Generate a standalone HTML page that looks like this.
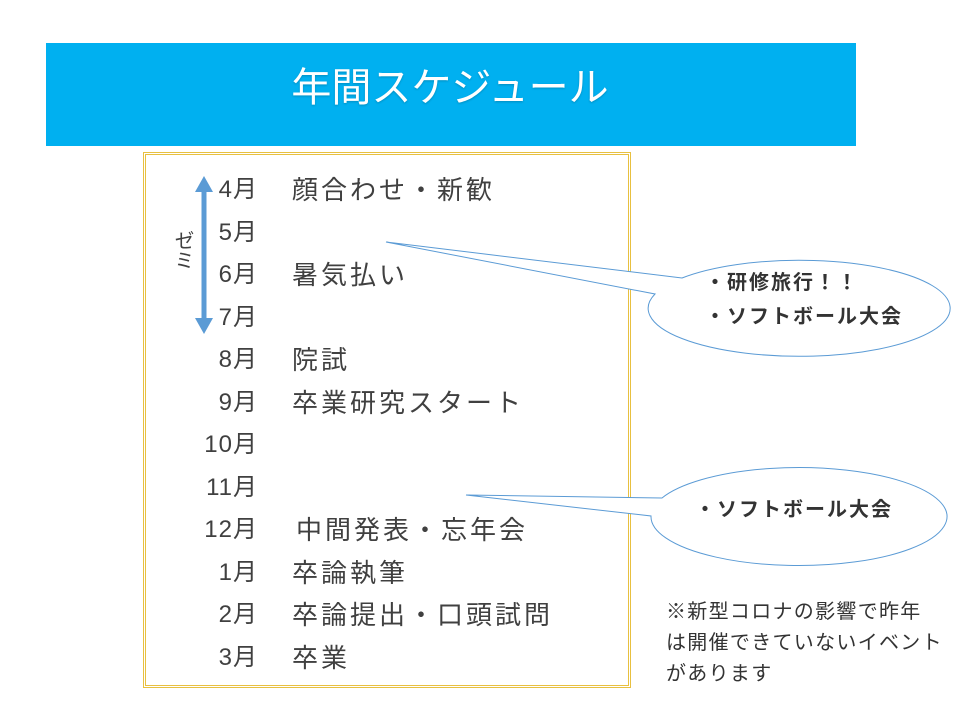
<!DOCTYPE html>
<html><head><meta charset="utf-8"><style>
body{margin:0;width:960px;height:720px;background:#fff;position:relative;overflow:hidden;font-family:"Liberation Sans","Noto Sans CJK JP",sans-serif;color:#404040}
.t{position:absolute;white-space:nowrap}
.m{position:absolute;width:70px;text-align:right;left:188px;font-size:24px;line-height:30px;letter-spacing:1px}
.e{position:absolute;left:292px;font-size:26px;line-height:30px;letter-spacing:3px;white-space:nowrap}
.c{position:absolute;white-space:nowrap;font-size:20px;line-height:24px;letter-spacing:2px;color:#333;font-weight:bold}
</style></head><body>
<div style="position:absolute;left:46px;top:43px;width:810px;height:103px;background:#00b0f0"></div>
<div class="t" style="left:250px;top:64px;width:400px;text-align:center;font-size:40px;line-height:48px;color:#fff;text-shadow:0 1px 2px rgba(0,0,0,.2)">年間スケジュール</div>
<div style="position:absolute;left:143px;top:152px;width:482px;height:530px;border:3px double #e8c040"></div>
<svg width="960" height="720" style="position:absolute;left:0;top:0">
<line x1="204" y1="190" x2="204" y2="320" stroke="#5b9bd5" stroke-width="5"/>
<polygon points="204,176 195,192 213,192" fill="#5b9bd5"/>
<polygon points="204,334 195,318 213,318" fill="#5b9bd5"/>
<path d="M682,278 A151,48 0 1 1 655,294 L386,242 Z" fill="#fff" stroke="#5b9bd5" stroke-width="1"/>
<path d="M662,498 A148,49 0 1 1 651,516 L466,495 Z" fill="#fff" stroke="#5b9bd5" stroke-width="1"/>
</svg>
<div class="t" style="left:168px;top:230px;font-size:20px;writing-mode:vertical-rl;color:#404040">ゼミ</div>
<div class="m" style="top:175px">4月</div><div class="e" style="top:175px">顔合わせ・新歓</div>
<div class="m" style="top:218px">5月</div>
<div class="m" style="top:260px">6月</div><div class="e" style="top:260px">暑気払い</div>
<div class="m" style="top:303px">7月</div>
<div class="m" style="top:345px">8月</div><div class="e" style="top:345px">院試</div>
<div class="m" style="top:388px">9月</div><div class="e" style="top:388px">卒業研究スタート</div>
<div class="m" style="top:430px">10月</div>
<div class="m" style="top:473px">11月</div>
<div class="m" style="top:515px">12月</div><div class="e" style="top:515px;left:296px">中間発表・忘年会</div>
<div class="m" style="top:558px">1月</div><div class="e" style="top:558px">卒論執筆</div>
<div class="m" style="top:600px">2月</div><div class="e" style="top:600px">卒論提出・口頭試問</div>
<div class="m" style="top:643px">3月</div><div class="e" style="top:643px">卒業</div>
<div class="c" style="left:705px;top:271px">・研修旅行！！</div>
<div class="c" style="left:705px;top:305px">・ソフトボール大会</div>
<div class="c" style="left:695px;top:498px">・ソフトボール大会</div>
<div class="t" style="left:666px;top:597px;font-size:20px;line-height:31px;letter-spacing:1.3px;color:#333">※新型コロナの影響で昨年<br>は開催できていないイベント<br>があります</div>
</body></html>
